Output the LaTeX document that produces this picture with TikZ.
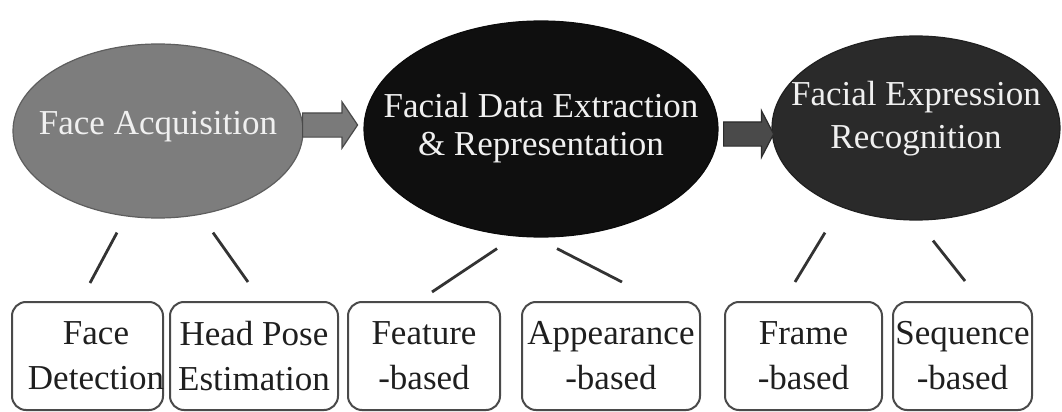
\documentclass[tikz,border=0pt]{standalone}
\usepackage{fontspec}
\setmainfont{Liberation Serif}
\usepackage{xcolor}
\usetikzlibrary{shapes.geometric,shapes.arrows,positioning}
\definecolor{acqgray}{HTML}{7D7D7D}
\definecolor{extblack}{HTML}{0F0F0F}
\definecolor{recdark}{HTML}{2A2A2A}
\definecolor{arrowgray}{HTML}{7A7A7A}
\definecolor{arrowdark}{HTML}{4A4A4A}
\definecolor{boxedge}{HTML}{4A4A4A}
\tikzset{
  oval/.style={ellipse,draw=#1!75!black,fill=#1,inner sep=0pt,line width=0.6pt},
  ovaltext/.style={text=white!94!black,align=center},
  leaf/.style={rectangle,rounded corners=7pt,draw=boxedge,line width=1pt,
    minimum height=54pt,inner sep=0pt,align=center,text=black!88,
    font=\fontsize{17.5}{22.5}\selectfont},
  blockarrow/.style={single arrow,anchor=tail,draw=#1!60!black,fill=#1,
    line width=0.6pt,inner xsep=0pt,inner ysep=5.75pt,single arrow head extend=5.5pt},
  link/.style={draw=black!80,line width=1.4pt}
}

\begin{document}
\begin{tikzpicture}[x=0.5pt,y=-0.5pt,font=\fontsize{17.5}{19}\selectfont]
  \useasboundingbox (0,0) rectangle (1062,412);
  % the three stages
  \node[oval=acqgray,minimum width=145pt,minimum height=87pt,
    label={[ovaltext,yshift=2pt]center:Face Acquisition}] (fa) at (158,131) {};
  \node[oval=extblack,minimum width=177pt,minimum height=108pt,
    label={[ovaltext,yshift=0.5pt]center:Facial Data Extraction\\\& Representation}] (fde) at (541,129) {};
  \node[oval=recdark,minimum width=144pt,minimum height=92pt,
    label={[ovaltext,yshift=4.5pt,font=\fontsize{17.5}{21.5}\selectfont]center:Facial Expression\\Recognition}] (fer) at (916,128) {};
  \node[blockarrow=arrowgray,minimum height=27.5pt,single arrow tip angle=112] (a1) at (302,125) {};
  \node[blockarrow=arrowdark,minimum height=25pt,single arrow tip angle=125] (a2) at (723,134) {};
  % sub-tasks
  \node[leaf,minimum width=75.5pt] (fdet) at (87.5,356) {};
  \node[leaf,draw=none] (fdettext) at ([xshift=4.25pt]fdet.center) {Face\\Detection};
  \node[leaf,minimum width=84pt] (fhp) at (254,356) {Head Pose\\Estimation};
  \node[leaf,minimum width=76pt] (ffb) at (424,356) {Feature\\-based};
  \node[leaf,minimum width=89pt] (fab) at (611,356) {Appearance\\-based};
  \node[leaf,minimum width=78.5pt] (ffr) at (803.5,356) {Frame\\-based};
  \node[leaf,minimum width=69.5pt] (fsq) at (962.5,356) {Sequence\\-based};
  \path[link]
    ([shift={(-41,14)}]fa.south) edge ([shift={(2.5,-18)}]fdet.north)
    ([shift={(55,14)}]fa.south) edge ([shift={(-6,-19)}]fhp.north)
    ([shift={(-44,11)}]fde.south) edge ([shift={(8,-9)}]ffb.north)
    ([shift={(16,11)}]fde.south) edge ([shift={(11,-19)}]fab.north)
    ([shift={(-91,12)}]fer.south) edge ([shift={(-8.5,-19)}]ffr.north)
    ([shift={(17,20)}]fer.south) edge ([shift={(2.5,-20)}]fsq.north);
\end{tikzpicture}
\end{document}
